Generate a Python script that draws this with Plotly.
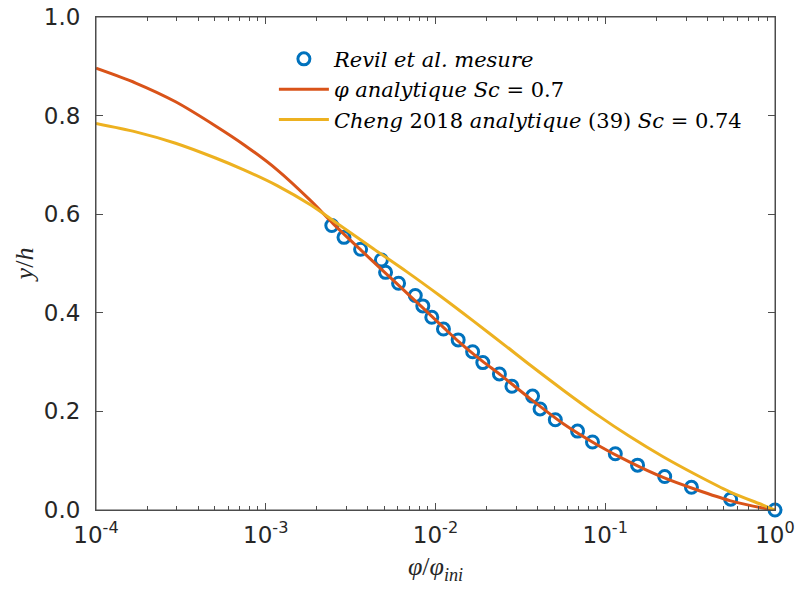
import plotly.graph_objects as go

# Measured points (Revil et al.)
meas_x = [2.45e-3, 2.89e-3, 3.62e-3, 4.80e-3, 5.08e-3, 6.06e-3, 7.60e-3, 8.42e-3, 9.51e-3,
          1.114e-2, 1.36e-2, 1.655e-2, 1.90e-2, 2.38e-2, 2.82e-2, 3.73e-2, 4.13e-2, 5.08e-2,
          6.87e-2, 8.41e-2, 0.1146, 0.155, 0.224, 0.322, 0.548, 1.0]
meas_y = [0.577, 0.553, 0.529, 0.507, 0.482, 0.460, 0.435, 0.414, 0.391,
          0.367, 0.345, 0.321, 0.299, 0.276, 0.251, 0.231, 0.205, 0.183,
          0.160, 0.138, 0.114, 0.091, 0.068, 0.046, 0.022, 0.0]

# phi analytique Sc = 0.7
phi_x = [1e-4, 1.714e-4, 2.944e-4, 5.06e-4, 7.43e-4, 1.167e-3, 1.832e-3, 2.51e-3, 3.64e-3,
         5.13e-3, 6.05e-3, 8.49e-3, 1.125e-2, 1.365e-2, 1.675e-2, 1.936e-2, 2.438e-2,
         2.877e-2, 3.606e-2, 5.66e-2, 8.89e-2, 0.1396, 0.2193, 0.3451, 0.542, 0.849, 1.0]
phi_y = [0.896, 0.866, 0.828, 0.779, 0.741, 0.690, 0.628, 0.580, 0.527,
         0.479, 0.456, 0.409, 0.369, 0.342, 0.316, 0.299, 0.273,
         0.253, 0.226, 0.175, 0.133, 0.097, 0.066, 0.041, 0.019, 0.004, 0.0]

# Cheng 2018 analytique (39) Sc = 0.74
cheng_x = [1e-4, 1.714e-4, 2.944e-4, 5.06e-4, 7.43e-4, 1.167e-3, 1.832e-3, 2.742e-3,
           4.305e-3, 6.79e-3, 1.067e-2, 1.675e-2, 2.63e-2, 3.606e-2, 5.66e-2, 8.89e-2,
           0.1396, 0.2193, 0.3451, 0.542, 0.849, 1.0]
cheng_y = [0.784, 0.767, 0.744, 0.714, 0.690, 0.658, 0.619, 0.577,
           0.530, 0.483, 0.434, 0.383, 0.331, 0.294, 0.243, 0.194,
           0.149, 0.108, 0.071, 0.037, 0.010, 0.0]

x_tickvals = [1e-4, 1e-3, 1e-2, 1e-1, 1]
x_ticktext = ["10<sup>-4</sup>", "10<sup>-3</sup>", "10<sup>-2</sup>", "10<sup>-1</sup>", "10<sup>0</sup>"]
y_tickvals = [0, 0.2, 0.4, 0.6, 0.8, 1.0]

minor_vals = [m * 10 ** e for e in (-4, -3, -2, -1) for m in range(2, 10)]

legend_names = [
    "<i>Revil et al. mesure</i>",
    "<i>φ analytique Sc</i> = 0.7",
    "<i>Cheng</i> 2018 <i>analytique</i> (39) <i>Sc</i> = 0.74",
]

fig = go.Figure()
fig.add_trace(go.Scatter(
    x=meas_x, y=meas_y, mode="markers", name=legend_names[0],
    marker=dict(symbol="circle-open", size=12, color="#0072BD", line=dict(width=3, color="#0072BD")),
    cliponaxis=False,
))
fig.add_trace(go.Scatter(
    x=phi_x, y=phi_y, mode="lines", name=legend_names[1],
    line=dict(color="#D95319", width=3, shape="spline", smoothing=0.8),
))
fig.add_trace(go.Scatter(
    x=cheng_x, y=cheng_y, mode="lines", name=legend_names[2],
    line=dict(color="#EDB120", width=3, shape="spline", smoothing=0.8),
))
# invisible trace bound to the top (box) axis so that it is drawn
fig.add_trace(go.Scatter(
    x=[x_tickvals[0]], y=[y_tickvals[0]], xaxis="x2", mode="markers",
    marker=dict(opacity=0), showlegend=False, hoverinfo="skip",
))

axis_color = "#4d4d4d"
fig.update_layout(
    width=800, height=589,
    margin=dict(l=96, r=25, t=17, b=79, autoexpand=False),
    paper_bgcolor="white", plot_bgcolor="white",
    font=dict(family="DejaVu Sans", size=20, color="#262626"),
    showlegend=True,
    legend=dict(
        x=0.262, y=0.956, xanchor="left", yanchor="top",
        bgcolor="rgba(0,0,0,0)", borderwidth=0,
        font=dict(family="DejaVu Serif", size=21, color="#000000"),
        tracegroupgap=0, itemwidth=50,
    ),
    xaxis=dict(
        type="log", range=[-4, 0], automargin=False,
        tickvals=x_tickvals, ticktext=x_ticktext, ticklabeloverflow="allow",
        ticks="inside", ticklen=7, tickcolor=axis_color,
        showline=True, linecolor=axis_color, linewidth=1, mirror=False,
        showgrid=False, zeroline=False, ticklabelstandoff=4,
        minor=dict(tickvals=minor_vals, ticks="inside", ticklen=4, tickcolor=axis_color, showgrid=False),
        tickfont=dict(family="DejaVu Sans", size=23, color="#262626"),
        title=dict(text="<i>φ</i>/<i>φ</i><sub><i>ini</i></sub>",
                   font=dict(family="Liberation Serif", size=26, color="#262626"), standoff=10),
    ),
    xaxis2=dict(
        type="log", range=[-4, 0], overlaying="x", side="top", automargin=False,
        tickvals=x_tickvals, showticklabels=False,
        ticks="inside", ticklen=7, tickcolor=axis_color,
        showline=True, linecolor=axis_color, linewidth=1,
        showgrid=False, zeroline=False,
        minor=dict(tickvals=minor_vals, ticks="inside", ticklen=4, tickcolor=axis_color, showgrid=False),
    ),
    yaxis=dict(
        range=[0, 1], tickvals=y_tickvals, tickformat=".1f", automargin=False,
        ticklabeloverflow="allow",
        ticks="inside", ticklen=7, tickcolor=axis_color,
        showline=True, linecolor=axis_color, linewidth=1, mirror="ticks",
        showgrid=False, zeroline=False, ticklabelstandoff=10,
        tickfont=dict(family="DejaVu Sans", size=23, color="#262626"),
        title=dict(text="<i>y</i>/<i>h</i>",
                   font=dict(family="Liberation Serif", size=26, color="#262626"), standoff=2),
    ),
    shapes=[dict(type="rect", xref="paper", yref="paper", x0=0, y0=0, x1=1, y1=1,
                 line=dict(color=axis_color, width=1), fillcolor="rgba(0,0,0,0)", layer="above")],
)

fig.write_html("out.html", config={"displayModeBar": False},
               post_script="document.body.style.margin='0';")
